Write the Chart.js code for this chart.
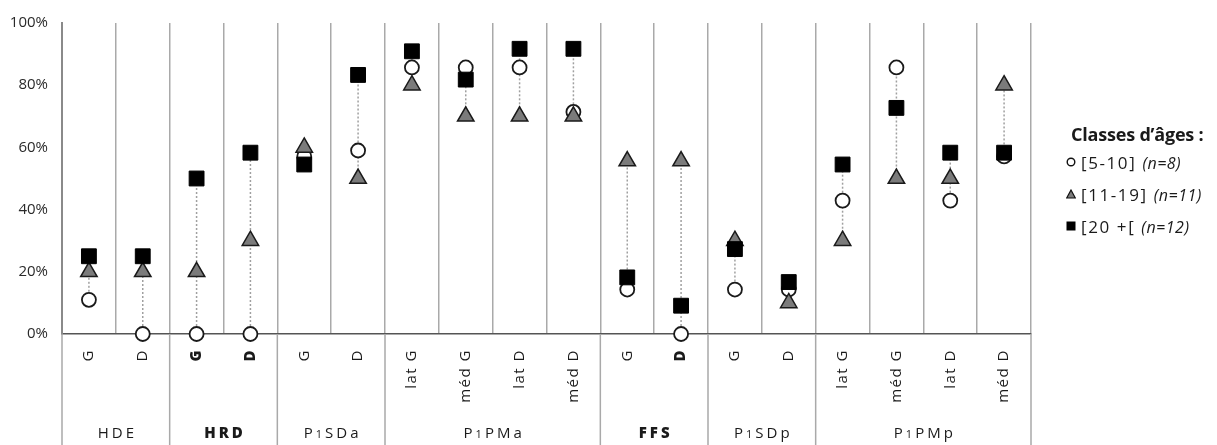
<!DOCTYPE html>
<html lang="fr">

<head>
    <meta charset="UTF-8">
    <meta name="viewport" content="width=device-width, initial-scale=1.0">
    <script src="https://cdn.jsdelivr.net/npm/chart.js"></script>
    <title>Classes d'âges</title>
    <style>
        body { margin: 0; background: #fff; }
        #wrap { position: relative; width: 1217px; height: 445px; }
        #legend { position: absolute; left: 1066px; top: 121px; font-family: 'Open Sans', sans-serif; color: #1a1a1a; }
        #legend .title { font-weight: bold; font-size: 18px; line-height: 26px; margin-left: 5px; letter-spacing: -0.2px; }
        #legend .row { font-size: 17px; line-height: 32px; letter-spacing: 1.6px; white-space: nowrap; }
        #legend .row i { font-size: 16px; letter-spacing: 0.5px; }
        #legend svg { vertical-align: middle; margin-right: 5px; position: relative; top: -2px; }
    </style>
</head>

<body>
    <div id="wrap">
        <canvas id="ageChart"></canvas>
        <div id="legend"></div>
    </div>
    <script>
        // categories on the x axis
        var categories = ['G', 'D', 'G', 'D', 'G', 'D', 'lat G', 'méd G', 'lat D', 'méd D',
            'G', 'D', 'G', 'D', 'lat G', 'méd G', 'lat D', 'méd D'];
        var boldCategories = [2, 3, 11];

        // groups under the categories
        var groupNames = ['HDE', 'HRD', 'P1SDa', 'P1PMa', 'FFS', 'P1SDp', 'P1PMp'];
        var groupSizes = [2, 2, 2, 4, 2, 2, 4];
        var boldGroups = ['HRD', 'FFS'];

        // y ticks
        var yTicks = [0, 20, 40, 60, 80, 100];

        // series (% per category)
        var seriesNames = ['[5-10]', '[11-19]', '[20 +['];
        var seriesN = ['(n=8)', '(n=11)', '(n=12)'];
        var age5_10 = [11, 0, 0, 0, 57.1, 59, 85.7, 85.7, 85.7, 71.4, 14.3, 0, 14.3, 14.3, 42.9, 85.7, 42.9, 57.1];
        var age11_19 = [20, 20, 20, 30, 60, 50, 80, 70, 70, 70, 55.6, 55.6, 30, 10, 30, 50, 50, 80];
        var age20plus = [25, 25, 50, 58.3, 54.5, 83.3, 90.9, 81.8, 91.7, 91.7, 18.2, 9.1, 27.3, 16.7, 54.5, 72.7, 58.3, 58.3];

        var FONT = "'Open Sans', sans-serif";
        var GRID = '#a9a9a9';

        // dotted line from min to max in each column
        var rangeLines = {
            id: 'rangeLines',
            beforeDatasetsDraw(chart) {
                const ctx = chart.ctx;
                const x = chart.scales.x, y = chart.scales.y;
                ctx.save();
                ctx.strokeStyle = '#a0a0a0';
                ctx.lineWidth = 1.5;
                ctx.setLineDash([2, 2]);
                for (let i = 0; i < categories.length; i++) {
                    let vals = [age5_10[i], age11_19[i], age20plus[i]];
                    let px = x.getPixelForValue(i);
                    ctx.beginPath();
                    ctx.moveTo(px, y.getPixelForValue(Math.min(...vals)));
                    ctx.lineTo(px, y.getPixelForValue(Math.max(...vals)));
                    ctx.stroke();
                }
                ctx.restore();
            }
        };

        // category labels, group separators and group names below the axis
        var bottomLabels = {
            id: 'bottomLabels',
            afterDraw(chart) {
                const ctx = chart.ctx;
                const x = chart.scales.x;
                const area = chart.chartArea;
                const bottom = chart.height;
                const half = (x.getPixelForValue(1) - x.getPixelForValue(0)) / 2;

                ctx.save();
                // separators
                ctx.strokeStyle = GRID;
                ctx.lineWidth = 1.5;
                let start = 0;
                let edges = [area.left];
                groupSizes.forEach(n => {
                    start += n;
                    edges.push(x.getPixelForValue(start - 1) + half);
                });
                edges.forEach(ex => {
                    ctx.beginPath();
                    ctx.moveTo(ex, area.bottom);
                    ctx.lineTo(ex, bottom);
                    ctx.stroke();
                });

                // rotated category labels
                ctx.fillStyle = '#1a1a1a';
                ctx.letterSpacing = '1.5px';
                categories.forEach((lab, i) => {
                    let bold = boldCategories.includes(i);
                    ctx.font = (bold ? '800 ' : '') + '15px ' + FONT;
                    ctx.save();
                    ctx.translate(x.getPixelForValue(i), area.bottom + 15);
                    ctx.rotate(-Math.PI / 2);
                    ctx.textAlign = 'right';
                    ctx.textBaseline = 'middle';
                    ctx.fillText(lab, 0, 0);
                    ctx.restore();
                });

                // group names (the "1" is drawn smaller)
                ctx.textBaseline = 'alphabetic';
                ctx.textAlign = 'left';
                ctx.letterSpacing = '3px';
                edges.slice(1).forEach((ex, g) => {
                    let name = groupNames[g];
                    let bold = boldGroups.includes(name);
                    let big = (bold ? '800 ' : '') + '15px ' + FONT;
                    let small = '11px ' + FONT;
                    let w = 0;
                    for (let ch of name) {
                        ctx.font = ch === '1' ? small : big;
                        w += ctx.measureText(ch).width;
                    }
                    let cx = (edges[g] + ex) / 2;
                    let px = cx - w / 2 + 1.5;
                    for (let ch of name) {
                        ctx.font = ch === '1' ? small : big;
                        ctx.fillText(ch, px, 438);
                        px += ctx.measureText(ch).width;
                    }
                });
                ctx.restore();
            }
        };

        var ctx = document.getElementById('ageChart').getContext('2d');
        var ageChart = new Chart(ctx, {
            type: 'line',
            data: {
                labels: categories,
                datasets: [
                    {
                        label: seriesNames[0], data: age5_10, order: 3, showLine: false, clip: false,
                        pointStyle: 'circle', pointRadius: 7, pointBackgroundColor: '#fff',
                        pointBorderColor: '#1a1a1a', pointBorderWidth: 1.8
                    },
                    {
                        label: seriesNames[1], data: age11_19, order: 2, showLine: false, clip: false,
                        pointStyle: 'triangle', pointRadius: 9.5, pointBackgroundColor: '#7b7b7b',
                        pointBorderColor: '#1a1a1a', pointBorderWidth: 1.5
                    },
                    {
                        label: seriesNames[2], data: age20plus, order: 1, showLine: false, clip: false,
                        pointStyle: 'rect', pointRadius: 10.5, pointBackgroundColor: '#000',
                        pointBorderColor: '#000', pointBorderWidth: 1
                    }
                ]
            },
            options: {
                responsive: true,
                maintainAspectRatio: false,
                animation: false,
                devicePixelRatio: 1,
                layout: { padding: { top: 13, right: 186, left: 0, bottom: 0 } },
                plugins: { legend: { display: false }, tooltip: { enabled: false } },
                scales: {
                    x: {
                        offset: true,
                        grid: { offset: true, color: GRID, lineWidth: 1.5, drawTicks: false },
                        border: { color: '#555', width: 1.5 },
                        ticks: { display: false },
                        afterFit: s => { s.height = 111; }
                    },
                    y: {
                        min: 0, max: 100,
                        afterBuildTicks: s => { s.ticks = yTicks.map(v => ({ value: v })); },
                        grid: { drawOnChartArea: false, drawTicks: false },
                        border: { color: '#8a8a8a', width: 2 },
                        ticks: {
                            padding: 14, color: '#2a2a2a', font: { family: FONT, size: 15 },
                            callback: v => v + '%'
                        },
                        afterFit: s => { s.width = 62; }
                    }
                }
            },
            plugins: [rangeLines, bottomLabels]
        });

        // legend
        var markers = [
            '<svg width="10" height="10"><circle cx="5" cy="5" r="3.8" fill="#fff" stroke="#111" stroke-width="1.4"/></svg>',
            '<svg width="10" height="10"><polygon points="5,1 9.3,9 0.7,9" fill="#7b7b7b" stroke="#111" stroke-width="1.2"/></svg>',
            '<svg width="10" height="10"><rect x="0.5" y="0.5" width="9" height="9" fill="#000"/></svg>'
        ];
        var html = '<div class="title">Classes d’âges :</div>';
        seriesNames.forEach((s, i) => {
            html += '<div class="row">' + markers[i] + s + ' <i>' + seriesN[i] + '</i></div>';
        });
        document.getElementById('legend').innerHTML = html;
    </script>
</body>

</html>
